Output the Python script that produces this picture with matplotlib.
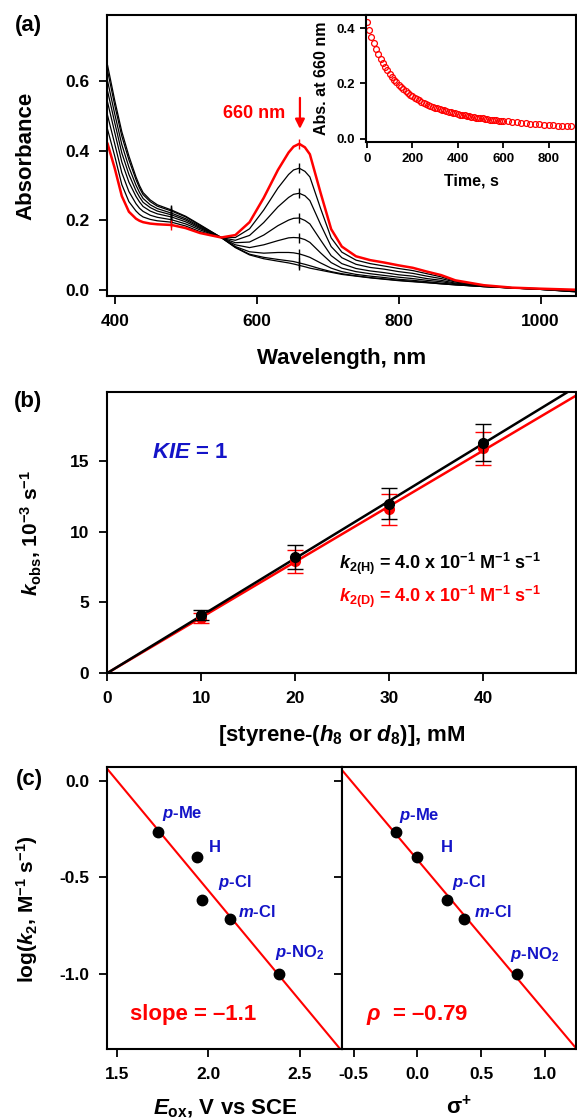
import numpy as np
import matplotlib
matplotlib.use('Agg')
import matplotlib.pyplot as plt

plt.rcParams['font.family'] = ['Liberation Sans', 'DejaVu Sans']
plt.rcParams['font.weight'] = 'bold'
plt.rcParams['axes.unicode_minus'] = False
plt.rcParams['mathtext.fontset'] = 'custom'
plt.rcParams['mathtext.rm'] = 'Liberation Sans:bold'
plt.rcParams['mathtext.bf'] = 'Liberation Sans:bold'
plt.rcParams['mathtext.it'] = 'Liberation Sans:italic:bold'
plt.rcParams['mathtext.sf'] = 'Liberation Sans:bold'

RED = '#ff0000'
BLUE = '#1414c8'

# ---- (a) spectra ----
wl = [390, 400, 410, 420, 430, 435, 440, 450, 460, 480, 500, 520, 550, 570, 590, 610, 630, 645,
      652, 660, 668, 675, 690, 705, 720, 740, 760, 780, 800, 820, 840, 860, 880, 920, 960, 1000,
      1050]
spec_red = [.420, .350, .270, .225, .205, .199, .195, .191, .189, .187, .178, .164, .151, .158,
            .195, .265, .345, .395, .412, .420, .410, .390, .280, .175, .125, .097, .086, .079,
            .071, .064, .053, .043, .028, .014, .007, .004, .001]
spec_black = [
    [.461, .385, .303, .254, .227, .217, .210, .203, .199, .195, .184, .168, .151, .151, .176,
     .230, .293, .332, .345, .350, .341, .325, .235, .150, .109, .086, .076, .069, .062, .056,
     .047, .038, .025, .013, .007, .004, .000],
    [.501, .420, .337, .283, .248, .235, .226, .215, .209, .202, .190, .173, .151, .143, .157,
     .194, .239, .266, .275, .278, .271, .257, .189, .125, .093, .074, .065, .060, .053, .048,
     .040, .033, .023, .012, .007, .003, -.001],
    [.539, .453, .368, .310, .269, .253, .240, .227, .219, .210, .196, .177, .151, .136, .138,
     .158, .185, .201, .206, .207, .200, .190, .144, .099, .076, .062, .055, .050, .044, .040,
     .033, .028, .020, .012, .006, .003, -.003],
    [.571, .481, .394, .332, .285, .267, .252, .237, .227, .216, .201, .180, .151, .130, .122,
     .130, .142, .150, .151, .150, .145, .137, .107, .079, .063, .053, .047, .042, .037, .033,
     .028, .024, .018, .011, .006, .002, -.004],
    [.600, .506, .418, .353, .301, .280, .263, .245, .234, .221, .205, .183, .151, .125, .110,
     .106, .108, .108, .107, .104, .099, .094, .078, .063, .053, .045, .040, .036, .031, .028,
     .024, .020, .016, .010, .006, .002, -.004],
    [.629, .531, .442, .374, .317, .293, .274, .254, .241, .227, .210, .186, .151, .123, .103,
     .094, .088, .084, .082, .078, .074, .070, .061, .053, .047, .041, .036, .032, .028, .025,
     .022, .018, .015, .010, .006, .002, -.005],
    [.645, .545, .455, .385, .325, .300, .280, .259, .245, .230, .212, .188, .151, .122, .101,
     .090, .083, .078, .075, .071, .067, .063, .057, .051, .045, .040, .035, .031, .027, .024,
     .021, .018, .015, .010, .006, .002, -.005],
]

# inset: decay at 660 nm
t_s = list(range(0, 601, 10)) + list(range(620, 901, 20))
abs660 = [.420, .393, .369, .346, .326, .307, .290, .274, .260, .247, .235, .224, .213, .204,
          .195, .187, .179, .172, .166, .160, .154, .149, .144, .139, .135, .131, .127, .123,
          .120, .117, .113, .110, .108, .105, .103, .100, .098, .096, .094, .092, .090, .088,
          .086, .085, .083, .081, .080, .079, .077, .076, .075, .074, .072, .071, .070, .069,
          .068, .067, .066, .065, .064,
          .063, .061, .060, .058, .057, .055, .054, .053, .051, .050, .049, .048, .047, .046, .045]

# ---- (b) KIE ----
conc = [10, 20, 30, 40]
kobs_H = [4.1, 8.25, 12.0, 16.3]
err_H = [0.35, 0.85, 1.1, 1.3]
kobs_D = [3.9, 7.9, 11.6, 15.9]
err_D = [0.35, 0.8, 1.1, 1.2]

# ---- (c) Hammett / Eox ----
subst = ['$p$-Me', 'H', '$p$-Cl', '$m$-Cl', '$p$-NO$_{\\rm 2}$']
E_ox = [1.726, 1.94, 1.966, 2.116, 2.386]
sigma = [-0.167, 0.0, 0.23, 0.368, 0.777]
logk2 = [-0.267, -0.397, -0.617, -0.717, -1.003]

fig = plt.figure(figsize=(5.77, 11.19), dpi=100)
W, H = 577.0, 1119.0


def box(l, t, r, b):
    return [l / W, 1 - b / H, (r - l) / W, (b - t) / H]


def style(ax, size=12.5, length=6, pad=7):
    for s in ax.spines.values():
        s.set_linewidth(1.5)
    ax.tick_params(direction='out', length=length, width=1.3, labelsize=size, pad=pad,
                   top=False, right=False)


# (a)
ax = fig.add_axes(box(107.4, 15, 576, 296))
style(ax)
i480, i660 = wl.index(480), wl.index(660)
for curve in spec_black:
    ax.plot(wl, curve, color='black', lw=0.9, marker='|', ms=7, mew=1,
            markevery=[i480, i660])
ax.plot(wl, spec_red, color=RED, lw=1.8, marker='|', ms=7, mew=1, mec=RED,
        markevery=[i480, i660])
ax.set_xlim(389.7, 1050)
ax.set_ylim(-0.017, 0.79)
ax.set_xticks([400, 600, 800, 1000])
ax.set_yticks([0.0, 0.2, 0.4, 0.6])
ax.yaxis.set_major_formatter(matplotlib.ticker.FormatStrFormatter('%.1f'))
ax.annotate('', xy=(661, 0.455), xytext=(661, 0.56),
            arrowprops=dict(arrowstyle='-|>', color=RED, lw=1.6, mutation_scale=14))
ax.text(640, 0.508, '660 nm', color=RED, fontsize=13, ha='right', va='center')

ins = fig.add_axes(box(366, 15, 576, 142))
style(ins, size=9.5, length=4, pad=4)
ins.plot(t_s, abs660, 'o', mfc='none', mec=RED, ms=4.2, mew=0.9)
ins.set_xlim(-4, 921)
ins.set_ylim(-0.011, 0.447)
ins.set_xticks([0, 200, 400, 600, 800])
ins.set_yticks([0.0, 0.2, 0.4])
ins.yaxis.set_major_formatter(matplotlib.ticker.FormatStrFormatter('%.1f'))

fig.text(26 / W, 1 - 156 / H, 'Absorbance', rotation=90, ha='center', va='center', fontsize=16)
fig.text(341.7 / W, 1 - 364 / H, 'Wavelength, nm', ha='center', va='baseline', fontsize=16)
fig.text(322 / W, 1 - 78.5 / H, 'Abs. at 660 nm', rotation=90, ha='center', va='center',
         fontsize=11.5)
fig.text(471 / W, 1 - 185 / H, 'Time, s', ha='center', va='baseline', fontsize=11.5)
fig.text(28 / W, 1 - 25 / H, '(a)', ha='center', va='center', fontsize=16)

# (b)
bx = fig.add_axes(box(107.4, 392, 576, 673))
style(bx)
slope_H = np.dot(conc, kobs_H) / np.dot(conc, conc)
slope_D = np.dot(conc, kobs_D) / np.dot(conc, conc)
xfit = np.array([0, 50])
bx.plot(xfit, slope_D * xfit, color=RED, lw=1.8, zorder=2)
bx.plot(xfit, slope_H * xfit, color='black', lw=1.8, zorder=2)
bx.errorbar(conc, kobs_D, yerr=err_D, fmt='o', color=RED, ms=7, capsize=5.8,
            elinewidth=1, capthick=1, zorder=3)
bx.errorbar(conc, kobs_H, yerr=err_H, fmt='o', color='black', ms=7, capsize=5.8,
            elinewidth=1, capthick=1, zorder=4)
bx.set_xlim(0, 49.9)
bx.set_ylim(0, 19.9)
bx.set_xticks([0, 10, 20, 30, 40])
bx.set_yticks([0, 5, 10, 15])
bx.text(4.74, 15.2, '$KIE$ = 1', color=BLUE, fontsize=16, ha='left', va='baseline')
bx.text(24.7, 7.36, '$k_{\\rm 2(H)}$ = 4.0 x 10$^{\u22121}$ M$^{\u22121}$ s$^{\u22121}$',
        color='black', fontsize=13, ha='left', va='baseline')
bx.text(24.7, 5.02, '$k_{\\rm 2(D)}$ = 4.0 x 10$^{\u22121}$ M$^{\u22121}$ s$^{\u22121}$',
        color=RED, fontsize=13, ha='left', va='baseline')
fig.text(31 / W, 1 - 533 / H, '$k_{\\rm obs}$, 10$^{-3}$ s$^{-1}$', rotation=90,
         ha='center', va='center', fontsize=15)
fig.text(341.7 / W, 1 - 740.5 / H, '[styrene-($h_{\\rm 8}$ or $d_{\\rm 8}$)], mM',
         ha='center', va='baseline', fontsize=16)
fig.text(28 / W, 1 - 402 / H, '(b)', ha='center', va='center', fontsize=16)

# (c)
cl = fig.add_axes(box(107.4, 767, 342, 1049))
cr = fig.add_axes(box(342, 767, 576, 1049))
style(cl)
style(cr)
cr.tick_params(labelleft=False)

off_l = [(4, 19), (11, 10), (16, 17), (8, 7), (-4, 22)]
off_r = [(3, 17), (23, 10), (5, 17), (10, 7), (-7, 20)]
for a, xs, offs, xlim in [(cl, E_ox, off_l, (1.448, 2.73)), (cr, sigma, off_r, (-0.59, 1.24))]:
    m, c = np.polyfit(xs, logk2, 1)
    xl = np.array(xlim)
    a.plot(xl, m * xl + c, color=RED, lw=1.5, zorder=2)
    a.plot(xs, logk2, 'o', color='black', ms=7.5, zorder=3)
    for name, x, y, o in zip(subst, xs, logk2, offs):
        a.annotate(name, (x, y), xytext=o, textcoords='offset pixels', color=BLUE,
                   fontsize=12, ha='left', va='center')
    a.set_xlim(*xlim)
    a.set_ylim(-1.39, 0.07)
    a.set_yticks([0.0, -0.5, -1.0])
    a.yaxis.set_major_formatter(matplotlib.ticker.FormatStrFormatter('%.1f'))
    a.xaxis.set_major_formatter(matplotlib.ticker.FormatStrFormatter('%.1f'))
cl.set_xticks([1.5, 2.0, 2.5])
cr.set_xticks([-0.5, 0.0, 0.5, 1.0])
cl.text(0.098, 0.103, 'slope = \u20131.1', transform=cl.transAxes, color=RED, fontsize=16,
        ha='left', va='baseline')
cr.text(0.103, 0.103, '$\\rho$  = \u20130.79', transform=cr.transAxes, color=RED, fontsize=16,
        ha='left', va='baseline')
fig.text(27 / W, 1 - 909 / H, 'log($k_{\\rm 2}$, M$^{-1}$ s$^{-1}$)', rotation=90,
         ha='center', va='center', fontsize=15)
fig.text(225 / W, 1 - 1114 / H, '$E_{\\rm ox}$, V vs SCE', ha='center', va='baseline',
         fontsize=16)
fig.text(459 / W, 1 - 1114 / H, '$\\mathrm{\\sigma}^{+}$', ha='center', va='baseline',
         fontsize=16)
fig.text(29.5 / W, 1 - 780 / H, '(c)', ha='center', va='center', fontsize=16)

fig.savefig('out.png', dpi=100)
